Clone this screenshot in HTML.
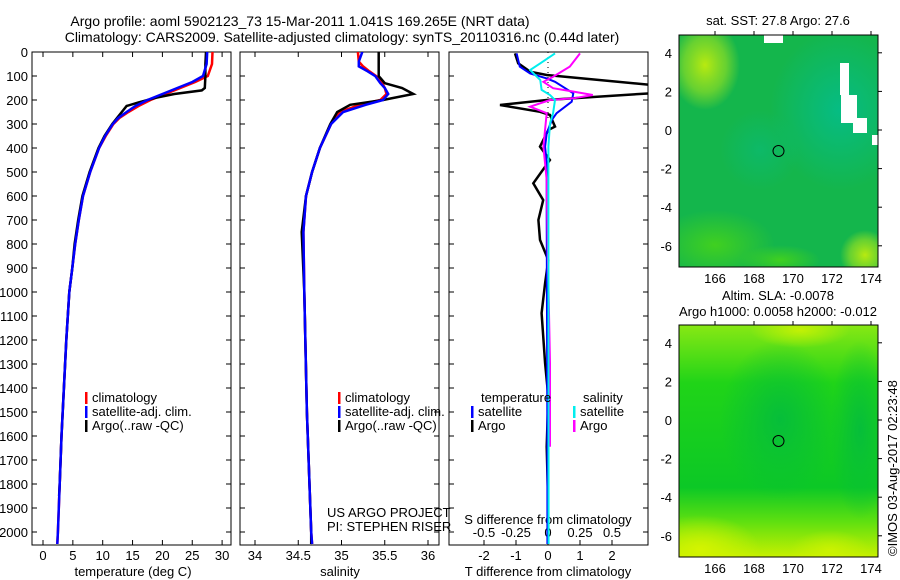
<!DOCTYPE html>
<html><head><meta charset="utf-8">
<style>
body{margin:0;background:#fff;}
svg{display:block;font-family:"Liberation Sans",sans-serif;}
text{font-size:13px;fill:#000;}
</style></head>
<body>
<svg id="chart" width="900" height="580" viewBox="0 0 900 580">
<defs>
<radialGradient id="y1" cx="0.5" cy="0.5" r="0.5"><stop offset="0" stop-color="#b8ea10"/><stop offset="0.6" stop-color="#7cd82a" stop-opacity="0.8"/><stop offset="1" stop-color="#7cd82a" stop-opacity="0"/></radialGradient>
<radialGradient id="t1" cx="0.5" cy="0.5" r="0.5"><stop offset="0" stop-color="#06bc84"/><stop offset="1" stop-color="#06bc84" stop-opacity="0"/></radialGradient>
<radialGradient id="g1" cx="0.5" cy="0.5" r="0.5"><stop offset="0" stop-color="#40d020"/><stop offset="1" stop-color="#40d020" stop-opacity="0"/></radialGradient>
<linearGradient id="m2" x1="0" y1="0" x2="0" y2="1"><stop offset="0" stop-color="#88e814"/><stop offset="0.25" stop-color="#20d418"/><stop offset="0.7" stop-color="#0cc826"/><stop offset="0.85" stop-color="#60e010"/><stop offset="1" stop-color="#c8f000"/></linearGradient>
<radialGradient id="y2" cx="0.5" cy="0.5" r="0.5"><stop offset="0" stop-color="#d4f400"/><stop offset="1" stop-color="#d4f400" stop-opacity="0"/></radialGradient>
<radialGradient id="d2" cx="0.5" cy="0.5" r="0.5"><stop offset="0" stop-color="#06be3a"/><stop offset="1" stop-color="#06be3a" stop-opacity="0"/></radialGradient>
<clipPath id="c1"><rect x="679" y="35" width="199" height="232"/></clipPath>
<clipPath id="c2"><rect x="679" y="325" width="199" height="232"/></clipPath>
<clipPath id="p1"><rect x="32" y="52" width="199" height="493"/></clipPath>
<clipPath id="p2"><rect x="240" y="52" width="199" height="493"/></clipPath>
<clipPath id="p3"><rect x="449" y="52" width="199" height="493"/></clipPath>
</defs>
<text x="300" y="26" text-anchor="middle" style="font-size:14px">Argo profile: aoml 5902123_73 15-Mar-2011 1.041S 169.265E (NRT data)</text>
<text x="342" y="42" text-anchor="middle" style="font-size:14px">Climatology: CARS2009. Satellite-adjusted climatology: synTS_20110316.nc (0.44d later)</text>
<g id="panels"></g>
<g id="maps">
 <g clip-path="url(#c1)">
  <rect x="679" y="35" width="199" height="232" fill="#14b64c"/>
  <ellipse cx="840" cy="110" rx="70" ry="80" fill="url(#t1)"/>
  <ellipse cx="760" cy="150" rx="40" ry="40" fill="url(#t1)" opacity="0.5"/>
  <ellipse cx="705" cy="65" rx="35" ry="45" fill="url(#y1)"/>
  <ellipse cx="715" cy="245" rx="60" ry="35" fill="url(#g1)"/>
  <ellipse cx="865" cy="255" rx="25" ry="25" fill="url(#y1)"/>
  <ellipse cx="780" cy="260" rx="40" ry="15" fill="url(#g1)"/>
  <rect x="764" y="35" width="19" height="8" fill="#fff"/>
  <rect x="840" y="63" width="9" height="32" fill="#fff"/>
  <rect x="841" y="95" width="16" height="28" fill="#fff"/>
  <rect x="853" y="118" width="14" height="15" fill="#fff"/>
  <rect x="872" y="135" width="6" height="10" fill="#fff"/>
  <circle cx="778.5" cy="151" r="5.5" fill="none" stroke="#000" stroke-width="1"/>
 </g>
 <rect x="679" y="35" width="199" height="232" fill="none" stroke="#000"/>
 <text x="778" y="25" text-anchor="middle">sat. SST: 27.8 Argo: 27.6</text>
 <g clip-path="url(#c2)">
  <rect x="679" y="325" width="199" height="232" fill="url(#m2)"/>
  <ellipse cx="780" cy="420" rx="60" ry="80" fill="url(#d2)"/>
  <ellipse cx="860" cy="430" rx="30" ry="90" fill="url(#d2)"/>
  <ellipse cx="700" cy="550" rx="60" ry="35" fill="url(#y2)"/>
  <ellipse cx="830" cy="550" rx="40" ry="20" fill="url(#y2)" opacity="0.7"/>
  <ellipse cx="800" cy="330" rx="50" ry="18" fill="url(#y2)" opacity="0.8"/>
  <circle cx="778.5" cy="441" r="5.5" fill="none" stroke="#000" stroke-width="1"/>
 </g>
 <rect x="679" y="325" width="199" height="232" fill="none" stroke="#000"/>
 <text x="778" y="300" text-anchor="middle">Altim. SLA: -0.0078</text>
 <text x="778" y="316" text-anchor="middle">Argo h1000: 0.0058 h2000: -0.012</text>
 <text transform="translate(897,556) rotate(-90)">©IMOS 03-Aug-2017 02:23:48</text>
</g>
</svg>
<script>
// ---- data ----
const depthT = [0,50,100,125,150,175,200,225,250,275,300,350,400,500,600,700,800,900,1000,1200,1400,1600,1800,2000,2050];
const climT = [28.4,28.3,27.6,25.5,23,20.5,18,16,14.3,12.8,11.8,10.5,9.4,7.9,6.7,6.0,5.4,4.9,4.4,3.9,3.5,3.1,2.8,2.5,2.4];
const satT  = [27.5,27.4,26.8,25,22.5,20,17.5,15.5,14,12.6,11.7,10.4,9.4,7.9,6.7,6.0,5.4,4.9,4.4,3.9,3.5,3.1,2.8,2.5,2.4];
const depthArgo = [0,50,100,150,160,175,190,210,225,250,275,300,350,400,500,600,700,800,900,1000,1200,1400,1600,1800,1850];
const argoT = [27.3,27.2,27.2,27.1,26.6,22,19,16,14,13.2,12.4,11.6,10.3,9.3,7.8,6.6,5.9,5.3,4.9,4.4,3.9,3.5,3.1,2.8,2.7];
const depthS = [0,40,60,80,100,130,150,175,200,220,250,300,400,500,600,750,1000,1500,2000,2050];
const climS = [35.19,35.2,35.25,35.32,35.4,35.47,35.5,35.52,35.45,35.21,34.98,34.88,34.75,34.66,34.59,34.56,34.57,34.6,34.65,34.66];
const satS  = [35.24,35.2,35.2,35.3,35.39,35.45,35.5,35.54,35.48,35.28,35.02,34.88,34.75,34.66,34.59,34.56,34.57,34.6,34.65,34.66];
const argoS = [35.43,35.43,35.43,35.43,35.43,35.5,35.7,35.83,35.48,35.1,34.95,34.87,34.75,34.66,34.59,34.54,34.57,34.6,34.65,34.65];
const depthTdA = [6,47,82,96,137,172,200,221,249,262,311,325,394,450,547,617,700,783,867,963,1088,1297,1436,1645,1850];
const tdiffArgo = [-1.03,-0.93,-0.56,-0.04,3.2,3.2,-0.04,-1.5,-0.25,0.06,0.22,0.01,-0.25,0.06,-0.46,-0.15,-0.3,-0.25,0.01,-0.09,-0.2,-0.09,0.01,-0.04,0];
const depthTdS = [6,61,89,110,124,172,207,255,283,339,394,464,681,1645,2050];
const tdiffSat = [-0.98,-0.88,-0.56,-0.04,0.22,0.79,0.74,0.27,0.12,-0.04,-0.09,-0.04,-0.04,-0.02,-0.02];
const depthSdS = [6,47,75,117,158,179,200,255,297,394,2050];
const sdiffSat = [0.055,-0.06,-0.14,-0.06,-0.05,0.016,0.055,0.04,0.016,0.003,0.005];
const depthSdA = [6,61,103,124,151,165,179,193,200,228,255,394,533,880,1297,1645];
const sdiffArgo = [0.25,0.17,0.04,-0.036,0.04,0.2,0.35,0.2,0.016,-0.14,-0.01,-0.036,-0.01,0,0.016,0.016];
const depthTicks = [0,100,200,300,400,500,600,700,800,900,1000,1100,1200,1300,1400,1500,1600,1700,1800,1900,2000];
const tTicks = [0,5,10,15,20,25,30];
const sTicks = [34,34.5,35,35.5,36];
const tdTicks = [-2,-1,0,1,2];
const sdTicks = [-0.5,-0.25,0,0.25,0.5];
// ---- axes ----
const NS='http://www.w3.org/2000/svg';
const root=document.getElementById('panels');
const yD = d => 52 + d*0.24;
const xT = v => 43 + v*5.97;
const xS = v => 255 + (v-34)*86.5;
const xTd = v => 548 + v*32;
const xSd = v => 548 + v*128;
function mk(tag,attrs,parent){const e=document.createElementNS(NS,tag);for(const k in attrs)e.setAttribute(k,attrs[k]);(parent||root).appendChild(e);return e;}
function txt(x,y,s,anchor,parent){const e=mk('text',{x:x,y:y,'text-anchor':anchor||'middle'},parent);e.textContent=s;return e;}
function line(xs,ys,xf,color,clip,name,w){
  let d='';for(let i=0;i<xs.length;i++){d+=(i?'L':'M')+xf(xs[i]).toFixed(1)+' '+yD(ys[i]).toFixed(1);}
  const p=mk('path',{d:d,fill:'none',stroke:color,'stroke-width':w||2,'clip-path':'url(#'+clip+')'});
  
  
  return p;
}
const panels=[[32,'p1'],[240,'p2'],[449,'p3']];
panels.forEach(([x0],i)=>{
  const r=mk('rect',{x:x0,y:52,width:199,height:493,fill:'none',stroke:'#000'});
  
  
  depthTicks.forEach(d=>{mk('line',{x1:x0,x2:x0+5,y1:yD(d),y2:yD(d),stroke:'#000'});mk('line',{x1:x0+199,x2:x0+194,y1:yD(d),y2:yD(d),stroke:'#000'});});
});
depthTicks.forEach(d=>{const t=txt(28,yD(d)+5,String(d),'end');
  
  });
tTicks.forEach(v=>{mk('line',{x1:xT(v),x2:xT(v),y1:545,y2:540,stroke:'#000'});mk('line',{x1:xT(v),x2:xT(v),y1:52,y2:57,stroke:'#000'});txt(xT(v),560,String(v));});
sTicks.forEach(v=>{mk('line',{x1:xS(v),x2:xS(v),y1:545,y2:540,stroke:'#000'});mk('line',{x1:xS(v),x2:xS(v),y1:52,y2:57,stroke:'#000'});txt(xS(v),560,String(v));});
tdTicks.forEach(v=>{mk('line',{x1:xTd(v),x2:xTd(v),y1:545,y2:540,stroke:'#000'});txt(xTd(v),560,String(v));});
sdTicks.forEach(v=>{txt(xSd(v),537,String(v));});
mk('line',{x1:548,x2:548,y1:52,y2:120,stroke:'#000','stroke-dasharray':'1,4'});
let t;
t=txt(133,576,'temperature (deg C)');
t=txt(340,576,'salinity');
t=txt(548,576,'T difference from climatology');
t=txt(548,524,'S difference from climatology');
txt(327,517,'US ARGO PROJECT','start');txt(327,531,'PI: STEPHEN RISER','start');
// series
line(climT,depthT,xT,'#f00','p1','temperature-climatology-line',2.5);
line(argoT,depthArgo,xT,'#000','p1','temperature-argo-line',2.5);
line(satT,depthT,xT,'#00f','p1','temperature-satellite-line',2.5);
line(climS,depthS,xS,'#f00','p2','salinity-climatology-line',2.5);
line(argoS,depthS,xS,'#000','p2','salinity-argo-line',2.5);
line(satS,depthS,xS,'#00f','p2','salinity-satellite-line',2.5);
line(tdiffArgo,depthTdA,xTd,'#000','p3','tdiff-argo-line',2.5);
line(tdiffSat,depthTdS,xTd,'#00f','p3','tdiff-satellite-line',2);
line(sdiffArgo,depthSdA,xSd,'#f0f','p3','sdiff-argo-line',2);
line(sdiffSat,depthSdS,xSd,'#0ee','p3','sdiff-satellite-line',2);
// legends
function leg(x,y,c,s){mk('rect',{x:x,y:y-10,width:2.5,height:12,fill:c});const e=txt(x+7,y,s,'start');}
[[85],[338]].forEach(([x])=>{leg(x,402,'#f00','climatology');leg(x,416,'#00f','satellite-adj. clim.');leg(x,430,'#000','Argo(..raw -QC)');});
txt(481,402,'temperature','start');leg(471,416,'#00f','satellite');leg(471,430,'#000','Argo');
txt(583,402,'salinity','start');leg(573,416,'#0ee','satellite');leg(573,430,'#f0f','Argo');
// map ticks
const lonTicks=[166,168,170,172,174];const latTicks=[4,2,0,-2,-4,-6];
const xLon=v=>715+(v-166)*19.5;
[[35,267,130],[325,557,420]].forEach(([top,bot,y0])=>{
  lonTicks.forEach(v=>{mk('line',{x1:xLon(v),x2:xLon(v),y1:top,y2:top-4,stroke:'#000'});txt(xLon(v),bot+16,String(v));});
  latTicks.forEach(v=>{const y=y0-v*19.3;mk('line',{x1:878,x2:882,y1:y,y2:y,stroke:'#000'});txt(672,y+5,String(v),'end');});
});
</script>
</body></html>
